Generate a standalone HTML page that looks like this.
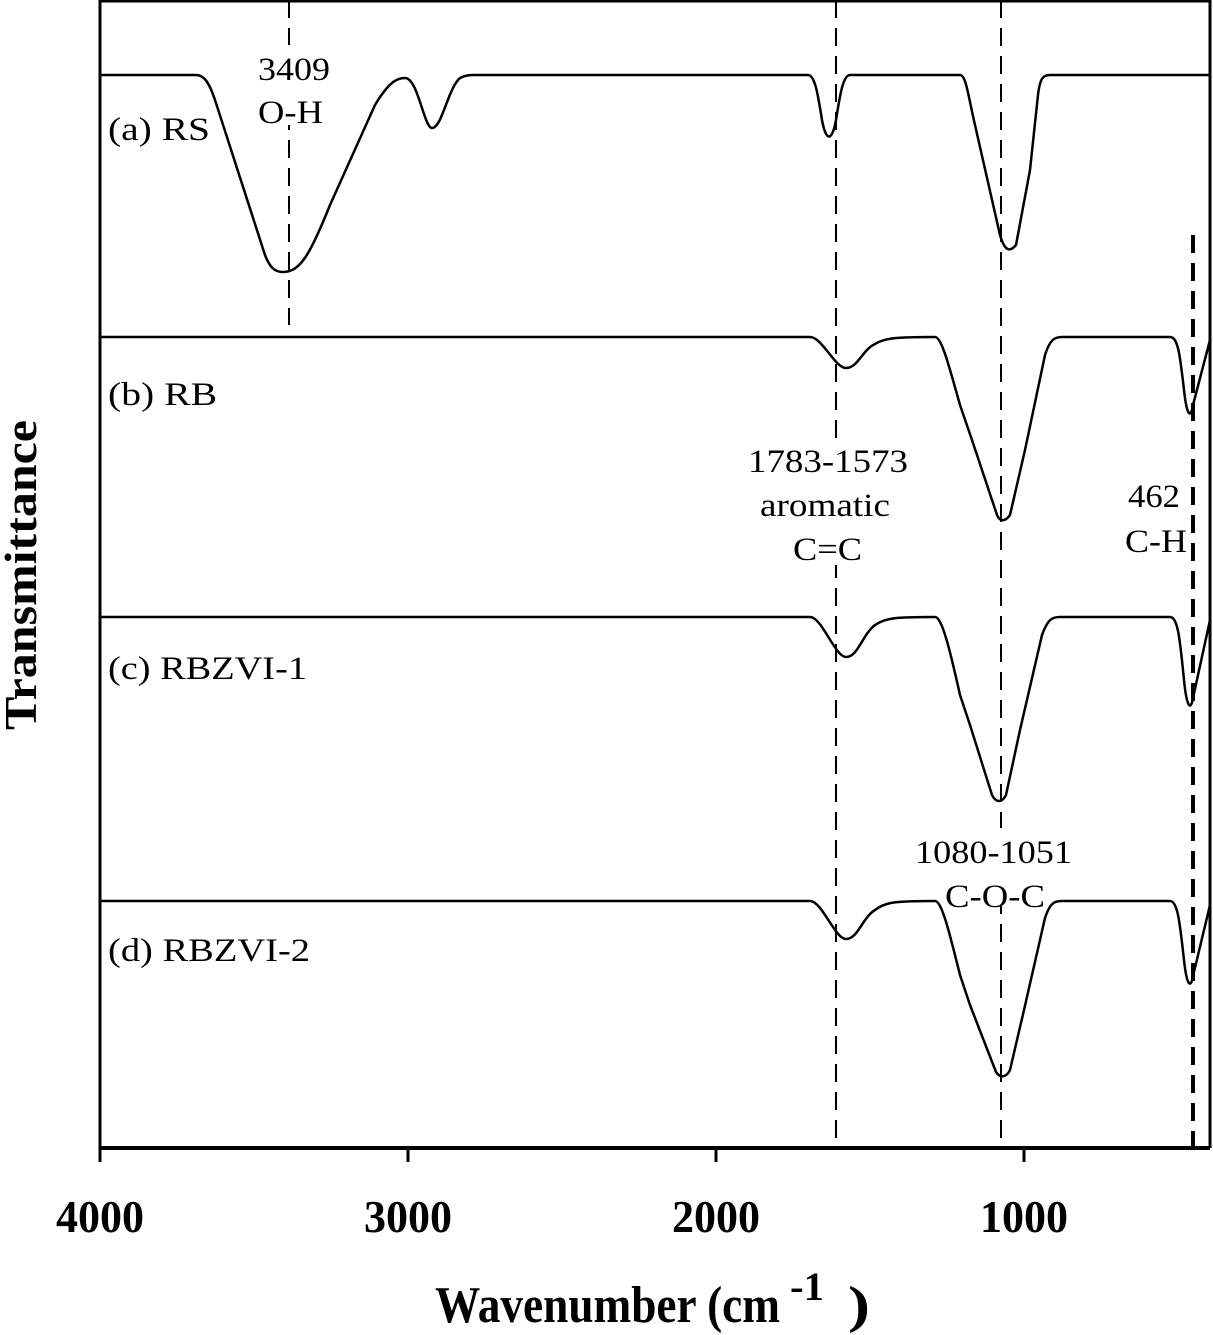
<!DOCTYPE html>
<html><head><style>body{margin:0;background:#fff}svg{display:block}</style></head>
<body>
<svg width="1213" height="1335" viewBox="0 0 1213 1335" xmlns="http://www.w3.org/2000/svg" font-family="Liberation Serif, serif">
<rect width="1213" height="1335" fill="#fff"/>
<g stroke="#000" fill="none">
<path d="M100 1148V1H1210V1148" stroke-width="3"/>
<path d="M100 1148H1210" stroke-width="4"/>
<path d="M100 1148v14M408 1148v14M716 1148v14M1024 1148v14" stroke-width="3"/>
<g stroke-width="2" stroke-dasharray="18,10">
<path d="M289 0V325"/><path d="M836 0V1148"/><path d="M1001 0V1148"/>
</g>
<path d="M1193 235V1148" stroke-width="4" stroke-dasharray="18,10"/>
</g>
<g fill="#fff">
<rect x="255" y="45" width="80" height="80"/>
<rect x="745" y="440" width="165" height="125"/>
<rect x="912" y="828" width="162" height="78"/>
</g>
<g stroke="#000" fill="none" stroke-width="2.5" stroke-linejoin="round">
<path d="M100 75H196C205 75 210 85 215 100L265 255C270 268 275 272 283 272C300 272 310 255 330 205L375 105C390 80 398 78 405 78C418 78 424 128 432 128C442 128 448 88 460 78C466 75 470 75 475 75H808C815 75 818 95 822 120C826 142 832 142 836 120C840 95 843 75 850 75H960C966 75 968 95 975 125L1000 235C1005 252 1010 252 1016 245L1030 170L1038 95C1040 78 1043 75 1050 75H1210"/>
<path d="M100 337H810C822 337 835 368 846 368C858 368 862 350 875 344C885 338 895 337 935 337C942 337 950 370 960 405L972 440L997 515C1000 522 1005 522 1010 515L1025 450L1045 355C1050 339 1055 337 1062 337H1170C1178 337 1180 355 1184 390C1187 418 1191 418 1193 405L1210 340"/>
<path d="M100 617H810C822 617 835 657 846 657C858 657 862 635 875 625C885 618 895 617 935 617C942 617 950 650 960 695L970 725L992 795C996 803 1002 803 1006 795L1020 730L1042 635C1048 619 1052 617 1060 617H1170C1178 617 1180 640 1184 680C1187 710 1191 710 1193 698L1210 620"/>
<path d="M100 901H810C822 901 835 939 846 939C858 939 862 918 875 910C885 902 895 901 935 901C942 901 950 935 960 975L970 1005L996 1072C1000 1078 1006 1078 1010 1070L1024 1010L1045 918C1050 903 1054 901 1062 901H1170C1178 901 1180 925 1184 960C1187 988 1191 988 1193 976L1210 905"/>
</g>
<g font-size="33" fill="#000">
<text x="108" y="140" textLength="102" lengthAdjust="spacingAndGlyphs">(a) RS</text>
<text x="258" y="80" textLength="72" lengthAdjust="spacingAndGlyphs">3409</text>
<text x="258" y="123" textLength="65" lengthAdjust="spacingAndGlyphs">O-H</text>
<text x="108" y="405" textLength="109" lengthAdjust="spacingAndGlyphs">(b) RB</text>
<text x="748" y="472" textLength="160" lengthAdjust="spacingAndGlyphs">1783-1573</text>
<text x="760" y="516" textLength="130" lengthAdjust="spacingAndGlyphs">aromatic</text>
<text x="793" y="560" textLength="69" lengthAdjust="spacingAndGlyphs">C=C</text>
<text x="1128" y="507" textLength="52" lengthAdjust="spacingAndGlyphs">462</text>
<text x="1125" y="552" textLength="62" lengthAdjust="spacingAndGlyphs">C-H</text>
<text x="108" y="679" textLength="199" lengthAdjust="spacingAndGlyphs">(c) RBZVI-1</text>
<text x="915" y="863" textLength="157" lengthAdjust="spacingAndGlyphs">1080-1051</text>
<text x="945" y="907" textLength="100" lengthAdjust="spacingAndGlyphs">C-O-C</text>
<text x="108" y="961" textLength="202" lengthAdjust="spacingAndGlyphs">(d) RBZVI-2</text>
</g>
<g font-size="46" font-weight="bold">
<text x="56" y="1232" textLength="88" lengthAdjust="spacingAndGlyphs">4000</text>
<text x="364" y="1232" textLength="88" lengthAdjust="spacingAndGlyphs">3000</text>
<text x="672" y="1232" textLength="88" lengthAdjust="spacingAndGlyphs">2000</text>
<text x="980" y="1232" textLength="88" lengthAdjust="spacingAndGlyphs">1000</text>
</g>
<text x="435" y="1322" font-size="52" font-weight="bold" textLength="345" lengthAdjust="spacingAndGlyphs">Wavenumber (cm</text>
<text x="790" y="1300" font-size="40" font-weight="bold" textLength="34" lengthAdjust="spacingAndGlyphs">-1</text>
<text x="848" y="1322" font-size="52" font-weight="bold" textLength="22" lengthAdjust="spacingAndGlyphs">)</text>
<text transform="translate(36,730) rotate(-90)" font-size="46" font-weight="bold" textLength="310" lengthAdjust="spacingAndGlyphs">Transmittance</text>
</svg>
</body></html>
